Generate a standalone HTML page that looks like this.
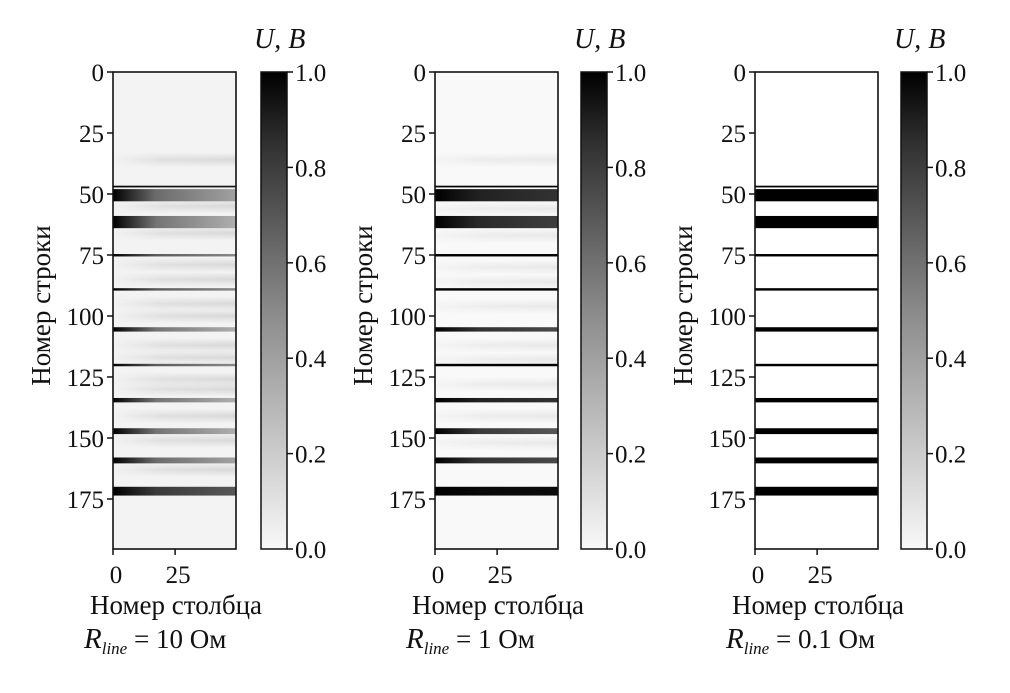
<!DOCTYPE html>
<html><head><meta charset="utf-8">
<style>
html,body{margin:0;padding:0;background:#fff;}
svg{display:block;font-family:"Liberation Serif",serif;}
</style></head>
<body>
<svg id="fig" width="1010" height="693" viewBox="0 0 1010 693">
<defs>
<linearGradient id="cbgrad" x1="0" y1="1" x2="0" y2="0">
<stop offset="0" stop-color="#f8f8f8"/><stop offset="0.5" stop-color="#8a8a8a"/><stop offset="0.85" stop-color="#303030"/><stop offset="1" stop-color="#000"/>
</linearGradient>
<linearGradient id="vfade" x1="0" y1="0" x2="0" y2="1">
<stop offset="0" stop-color="#fff" stop-opacity="0"/><stop offset="0.5" stop-color="#fff" stop-opacity="1"/><stop offset="1" stop-color="#fff" stop-opacity="0"/>
</linearGradient>
<mask id="softmask" maskContentUnits="objectBoundingBox"><rect x="0" y="0" width="1" height="1" fill="url(#vfade)"/></mask>
</defs>
</svg>
<script>
// Row positions of bright bands (start,end rows) shared across panels
const bandStart = [46.6, 48, 59, 74.6, 88.6, 104.6, 119.6, 133.6, 146, 158, 170];
const bandEnd   = [47.3, 53, 64, 75.6, 89.6, 106.4, 120.6, 135.4, 148.4, 160.4, 173.6];
// Left/right voltage values per panel
const leftVals = [
  [1,1,1,1,1,1,1,1,1,1,1],
  [1,1,1,1,1,1,1,1,1,1,1],
  [1,1,1,1,1,1,1,1,1,1,1]
];
const rightVals = [
  [0.9,0.35,0.3,0.45,0.45,0.3,0.45,0.3,0.3,0.35,0.65],
  [1,0.8,0.75,1,1,0.7,1,0.8,0.65,0.7,0.95],
  [1,1,1,1,1,1,1,1,1,1,1]
];
// faint haze rows per panel
const hazeRows = [
  [36,55,66,79,85,95,100,112,117,126,130,141,151,163],
  [36,56,67,80,86,96,112,118,128,141,152],
  []
];
const hazeVals = [0.1, 0.05, 0];
const yTicks = [0,25,50,75,100,125,150,175];
const xTicks = [0,25];
const cbTicks = [0,0.2,0.4,0.6,0.8,1.0];
const resist = ["10","1","0.1"];

const svg = document.getElementById('fig');
const NS = 'http://www.w3.org/2000/svg';
const panelX = [113, 435, 755];
const cbX = [261, 581, 901];
const topY = 72, bottomY = 549, nRows = 195.5, nCols = 49.5, hmW = 123;
function yScale(r){ return topY + r*(bottomY-topY)/nRows; }
function xScale(c, p){ return panelX[p] + c*hmW/nCols; }
function cbScale(v){ return bottomY - v*(bottomY-topY); }
function gray(v){ const g = Math.round(248*(1-v)); return `rgb(${g},${g},${g})`; }
function mk(tag, attrs, parent){ const e=document.createElementNS(NS,tag); for(const k in attrs) e.setAttribute(k,attrs[k]); (parent||svg).appendChild(e); return e; }
const defs = svg.querySelector('defs');

for(let p=0;p<3;p++){
  const g = mk('g',{});
  
  
  const bg = mk('rect',{x:panelX[p],y:topY,width:hmW,height:bottomY-topY,fill:p==0?'#f3f3f3':(p==1?'#f9f9f9':'#fff')},g);
  
  
  hazeRows[p].forEach((r,i)=>{
    const gid='hz'+p+'_'+i;
    const lg=mk('linearGradient',{id:gid,x1:0,x2:1,y1:0,y2:0},defs);
    mk('stop',{offset:0,'stop-color':gray(hazeVals[p]*0.3)},lg);
    mk('stop',{offset:0.4,'stop-color':gray(hazeVals[p])},lg);
    mk('stop',{offset:1,'stop-color':gray(hazeVals[p]*1.3)},lg);
    const h=mk('rect',{x:xScale(0,p),y:yScale(r-3),width:hmW,height:yScale(r+3)-yScale(r-3),fill:`url(#${gid})`,mask:'url(#softmask)'},g);
    
    
  });
  bandStart.forEach((s,i)=>{
    const gid='bd'+p+'_'+i;
    const lg=mk('linearGradient',{id:gid,x1:0,x2:1,y1:0,y2:0},defs);
    mk('stop',{offset:0,'stop-color':gray(leftVals[p][i])},lg);
    mk('stop',{offset:0.35,'stop-color':gray((leftVals[p][i]+2*rightVals[p][i])/3)},lg);
    mk('stop',{offset:1,'stop-color':gray(rightVals[p][i])},lg);
    const b=mk('rect',{x:xScale(0,p),y:yScale(s),width:hmW,height:Math.max(1.5,yScale(bandEnd[i])-yScale(s)),fill:`url(#${gid})`},g);
    
    
  });
  const fr=mk('rect',{x:panelX[p],y:topY,width:hmW,height:bottomY-topY,fill:'none',stroke:'#111','stroke-width':1.6},g);
  
  
  yTicks.forEach(t=>{
    const y=yScale(t);
    mk('line',{x1:panelX[p]-6,x2:panelX[p],y1:y,y2:y,stroke:'#111','stroke-width':1.5},g);
    const tx=mk('text',{x:panelX[p]-9,y:y+9,'font-size':25,'text-anchor':'end',fill:'#111'},g);
    tx.textContent=t;
    
    
  });
  xTicks.forEach(t=>{
    const x=xScale(t,p);
    mk('line',{x1:x,x2:x,y1:bottomY,y2:bottomY+6,stroke:'#111','stroke-width':1.5},g);
    const tx=mk('text',{x:x+3,y:bottomY+34,'font-size':25,'text-anchor':'middle',fill:'#111'},g);
    tx.textContent=t;
    
    
  });
  const yl=mk('text',{x:0,y:0,'font-size':27,'text-anchor':'middle',fill:'#111',transform:`translate(${panelX[p]-63},${(topY+bottomY)/2-5}) rotate(-90)`},g);
  yl.textContent='Номер строки';
  
  
  const xl=mk('text',{x:panelX[p]+63,y:614,'font-size':27,'text-anchor':'middle',fill:'#111'},g);
  xl.textContent='Номер столбца';
  
  
  const rl=mk('text',{x:panelX[p]-29,y:648,'font-size':27,fill:'#111'},g);
  const t1=mk('tspan',{'font-style':'italic','font-size':29},rl); t1.textContent='R';
  const t2=mk('tspan',{'font-style':'italic','font-size':17,dy:6},rl); t2.textContent='line';
  const t3=mk('tspan',{dy:-6},rl); t3.textContent=' =  '+resist[p]+' Ом';
  t3.setAttribute('xml:space','preserve');
  
  
  const cb=mk('rect',{x:cbX[p],y:topY,width:26,height:bottomY-topY,fill:'url(#cbgrad)',stroke:'#111','stroke-width':1.5},g);
  
  
  cbTicks.forEach(v=>{
    const y=cbScale(v);
    mk('line',{x1:cbX[p]+26,x2:cbX[p]+32,y1:y,y2:y,stroke:'#111','stroke-width':1.5},g);
    const tx=mk('text',{x:cbX[p]+34,y:y+9,'font-size':25,fill:'#111'},g);
    tx.textContent=v.toFixed(1);
    
    
  });
  const ct=mk('text',{x:cbX[p]-7,y:48,'font-size':28,'font-style':'italic',fill:'#111'},g);
  ct.textContent='U,  B';
  ct.setAttribute('xml:space','preserve');
  
  
}
</script>
</body></html>
